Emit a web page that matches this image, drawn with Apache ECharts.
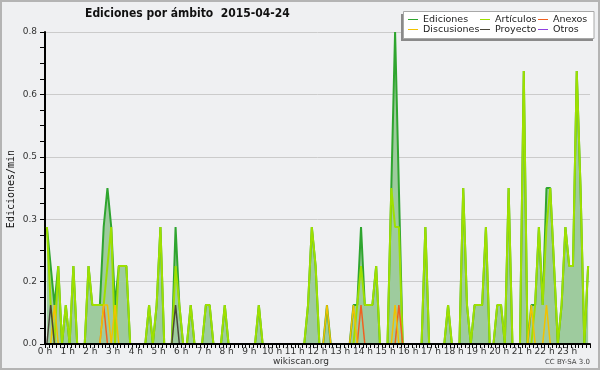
<!DOCTYPE html>
<html><head><meta charset="utf-8">
<script src="https://cdn.jsdelivr.net/npm/echarts@6/dist/echarts.min.js"></script>
<style>html,body{margin:0;padding:0;background:#eff0f2}#c{width:600px;height:370px}</style>
</head><body><div id="c"></div>
<script>
// 144 bins of 10 minutes (0h00 .. 23h50)
const hourLabels = ['0 h','1 h','2 h','3 h','4 h','5 h','6 h','7 h','8 h','9 h','10 h','11 h','12 h','13 h','14 h','15 h','16 h','17 h','18 h','19 h','20 h','21 h','22 h','23 h'];
const yTicks = [0, 0.16, 0.32, 0.48, 0.64, 0.8];

const ediciones = [
 0.3,0.2,0.1,0.2,0,0.1,0,0.2,0,0,
 0,0.2,0.1,0.1,0.1,0.3,0.4,0.3,0.1,0.2,
 0.2,0.2,0,0,0,0,0,0.1,0,0.1,
 0.3,0,0,0,0.3,0.1,0,0,0.1,0,
 0,0,0.1,0.1,0,0,0,0.1,0,0,
 0,0,0,0,0,0,0.1,0,0,0,
 0,0,0,0,0,0,0,0,0,0.1,
 0.3,0.2,0,0,0.1,0,0,0,0,0,
 0,0.1,0.1,0.3,0.1,0.1,0.1,0.2,0,0,
 0,0.4,0.8,0.4,0,0,0,0,0,0,
 0.3,0,0,0,0,0,0.1,0,0,0,
 0.4,0.1,0,0.1,0.1,0.1,0.3,0,0,0.1,
 0.1,0,0.4,0,0,0,0.7,0,0.1,0.1,
 0.3,0.1,0.4,0.4,0.2,0,0.1,0.3,0.2,0.2,
 0.7,0.4,0,0.2
];
const articulos = [
 0.3,0.1,0,0.2,0,0.1,0,0.2,0,0,
 0,0.2,0.1,0.1,0.1,0.1,0.2,0.3,0,0.2,
 0.2,0.2,0,0,0,0,0,0.1,0,0.1,
 0.3,0,0,0,0.2,0.1,0,0,0.1,0,
 0,0,0.1,0.1,0,0,0,0.1,0,0,
 0,0,0,0,0,0,0.1,0,0,0,
 0,0,0,0,0,0,0,0,0,0.1,
 0.3,0.2,0,0,0,0,0,0,0,0,
 0,0,0.1,0.2,0.1,0.1,0.1,0.2,0,0,
 0,0.4,0.3,0.3,0,0,0,0,0,0,
 0.3,0,0,0,0,0,0.1,0,0,0,
 0.4,0.1,0,0.1,0.1,0.1,0.3,0,0,0.1,
 0.1,0,0.4,0,0,0,0.7,0,0,0.1,
 0.3,0.1,0.3,0.4,0.2,0,0.1,0.3,0.2,0.2,
 0.7,0.4,0,0.2
];
const discusiones = [
 0,0,0.1,0,0,0,0,0,0,0,
 0,0,0,0,0,0.1,0.1,0,0.1,0,
 0,0,0,0,0,0,0,0,0,0,
 0,0,0,0,0,0,0,0,0,0,
 0,0,0,0,0,0,0,0,0,0,
 0,0,0,0,0,0,0,0,0,0,
 0,0,0,0,0,0,0,0,0,0,
 0,0,0,0,0.1,0,0,0,0,0,
 0,0.1,0,0,0,0,0,0,0,0,
 0,0,0.1,0,0,0,0,0,0,0,
 0,0,0,0,0,0,0,0,0,0,
 0,0,0,0,0,0,0,0,0,0,
 0,0,0,0,0,0,0,0,0.1,0,
 0,0,0.1,0,0,0,0,0,0,0,
 0,0,0,0
];
const anexos = [
 0,0,0,0,0,0,0,0,0,0,
 0,0,0,0,0,0.1,0,0,0,0,
 0,0,0,0,0,0,0,0,0,0,
 0,0,0,0,0,0,0,0,0,0,
 0,0,0,0,0,0,0,0,0,0,
 0,0,0,0,0,0,0,0,0,0,
 0,0,0,0,0,0,0,0,0,0,
 0,0,0,0,0,0,0,0,0,0,
 0,0,0,0.1,0,0,0,0,0,0,
 0,0,0,0.1,0,0,0,0,0,0,
 0,0,0,0,0,0,0,0,0,0,
 0,0,0,0,0,0,0,0,0,0,
 0,0,0,0,0,0,0,0,0,0,
 0,0,0,0,0,0,0,0,0,0,
 0,0,0,0
];
const proyecto = [
 0,0.1,0,0,0,0,0,0,0,0,
 0,0,0,0,0,0,0,0,0,0,
 0,0,0,0,0,0,0,0,0,0,
 0,0,0,0,0.1,0,0,0,0,0,
 0,0,0,0,0,0,0,0,0,0,
 0,0,0,0,0,0,0,0,0,0,
 0,0,0,0,0,0,0,0,0,0,
 0,0,0,0,0,0,0,0,0,0,
 0,0,0,0,0,0,0,0,0,0,
 0,0,0,0,0,0,0,0,0,0,
 0,0,0,0,0,0,0,0,0,0,
 0,0,0,0,0,0,0,0,0,0,
 0,0,0,0,0,0,0,0,0,0,
 0,0,0,0,0,0,0,0,0,0,
 0,0,0,0
];
const otros = new Array(144).fill(0);

const pts = arr => arr.map((v, i) => [i + 0.5, v]);
const chart = echarts.init(document.getElementById('c'), null, {renderer: 'canvas'});

function lineSeries(name, data, color, z, width, extra) {
  return Object.assign({
    name, type: 'line', data: pts(data), showSymbol: false, symbol: 'none',
    smooth: false, z: z, silent: true, animation: false,
    lineStyle: {color, width: width}, itemStyle: {color}
  }, extra || {});
}

const legendBase = {
  orient: 'vertical', top: 14.5, itemGap: 0, itemWidth: 10, itemHeight: 1,
  icon: 'rect', padding: 0, selectedMode: false,
  textStyle: {fontFamily: 'DejaVu Sans', fontSize: 9.5, color: '#222', lineHeight: 10}
};

chart.setOption({
  animation: false,
  backgroundColor: '#eff0f2',
  grid: {left: 45, right: 10, top: 32, bottom: 26, containLabel: false, outerBoundsMode: 'none'},
  legend: [
    Object.assign({}, legendBase, {left: 408, data: ['Ediciones', 'Discusiones']}),
    Object.assign({}, legendBase, {left: 480, data: ['Artículos', 'Proyecto']}),
    Object.assign({}, legendBase, {left: 538, data: ['Anexos', 'Otros']})
  ],
  xAxis: {
    type: 'value', min: 0, max: 144, interval: 6, z: 10,
    axisLine: {show: true, onZero: false, lineStyle: {color: '#000', width: 2}},
    axisTick: {show: true, length: 4, lineStyle: {color: '#000', width: 1}},
    minorTick: {show: true, splitNumber: 6, length: 4, lineStyle: {color: '#000', width: 1}},
    splitLine: {show: false},
    axisLabel: {
      margin: 3, fontFamily: 'DejaVu Sans', fontSize: 9, color: '#333',
      showMaxLabel: false,
      formatter: v => (v % 6 === 0 && v / 6 < hourLabels.length) ? hourLabels[v / 6] : ''
    }
  },
  yAxis: {
    type: 'value', min: yTicks[0], max: yTicks[yTicks.length - 1], interval: 0.16,
    axisLine: {show: true, lineStyle: {color: '#000', width: 2}},
    axisTick: {show: true, length: 5, lineStyle: {color: '#000', width: 1}},
    minorTick: {show: true, splitNumber: 4, length: 5, lineStyle: {color: '#000', width: 1}},
    splitLine: {show: true, lineStyle: {color: '#cbcbcb', width: 1}},
    axisLabel: {
      margin: 8, fontFamily: 'DejaVu Sans', fontSize: 9, color: '#333',
      formatter: v => v.toFixed(1)
    }
  },
  series: [
    lineSeries('Ediciones', ediciones, '#2fa52f', 2, 2, {areaStyle: {color: '#9ecb9e', opacity: 1}}),
    lineSeries('Artículos', articulos, '#9ee000', 3, 2),
    lineSeries('Anexos', anexos, '#f06020', 4, 1.5),
    lineSeries('Discusiones', discusiones, '#f2c200', 4, 1.5),
    lineSeries('Proyecto', proyecto, '#4a4638', 5, 1.5),
    lineSeries('Otros', otros, '#9040e0', 1, 1.5)
  ],
  graphic: [
    {type: 'rect', z: 3, z2: 0, shape: {x: 401, y: 14, width: 192, height: 27}, style: {fill: '#8a8a8a'}},
    {type: 'rect', z: 3, z2: 1, shape: {x: 403.5, y: 11.5, width: 190.5, height: 27}, style: {fill: '#ffffff', stroke: '#a8a8a8', lineWidth: 1}},
    {type: 'rect', z: 20, shape: {x: 1, y: 1, width: 598, height: 368}, style: {fill: 'none', stroke: '#b4b4b4', lineWidth: 2}},
    {type: 'text', z: 20, x: 11, y: 189, rotation: Math.PI / 2, style: {text: 'Ediciones/min', x: 0, y: 0, font: '10px "DejaVu Sans Mono"', fill: '#111', verticalAlign: 'middle', align: 'center'}},
    {type: 'text', z: 20, style: {text: 'Ediciones por ámbito  2015-04-24', x: 85, y: 14, font: 'bold 12px "DejaVu Sans Condensed"', fill: '#111', verticalAlign: 'middle', align: 'left'}},
    {type: 'text', z: 20, style: {text: 'wikiscan.org', x: 301, y: 362, font: '9px "DejaVu Sans"', fill: '#333', verticalAlign: 'middle', align: 'center'}},
    {type: 'text', z: 20, style: {text: 'CC BY-SA 3.0', x: 590, y: 362, font: '7px "DejaVu Sans"', fill: '#444', verticalAlign: 'middle', align: 'right'}}
  ]
});
</script></body></html>
